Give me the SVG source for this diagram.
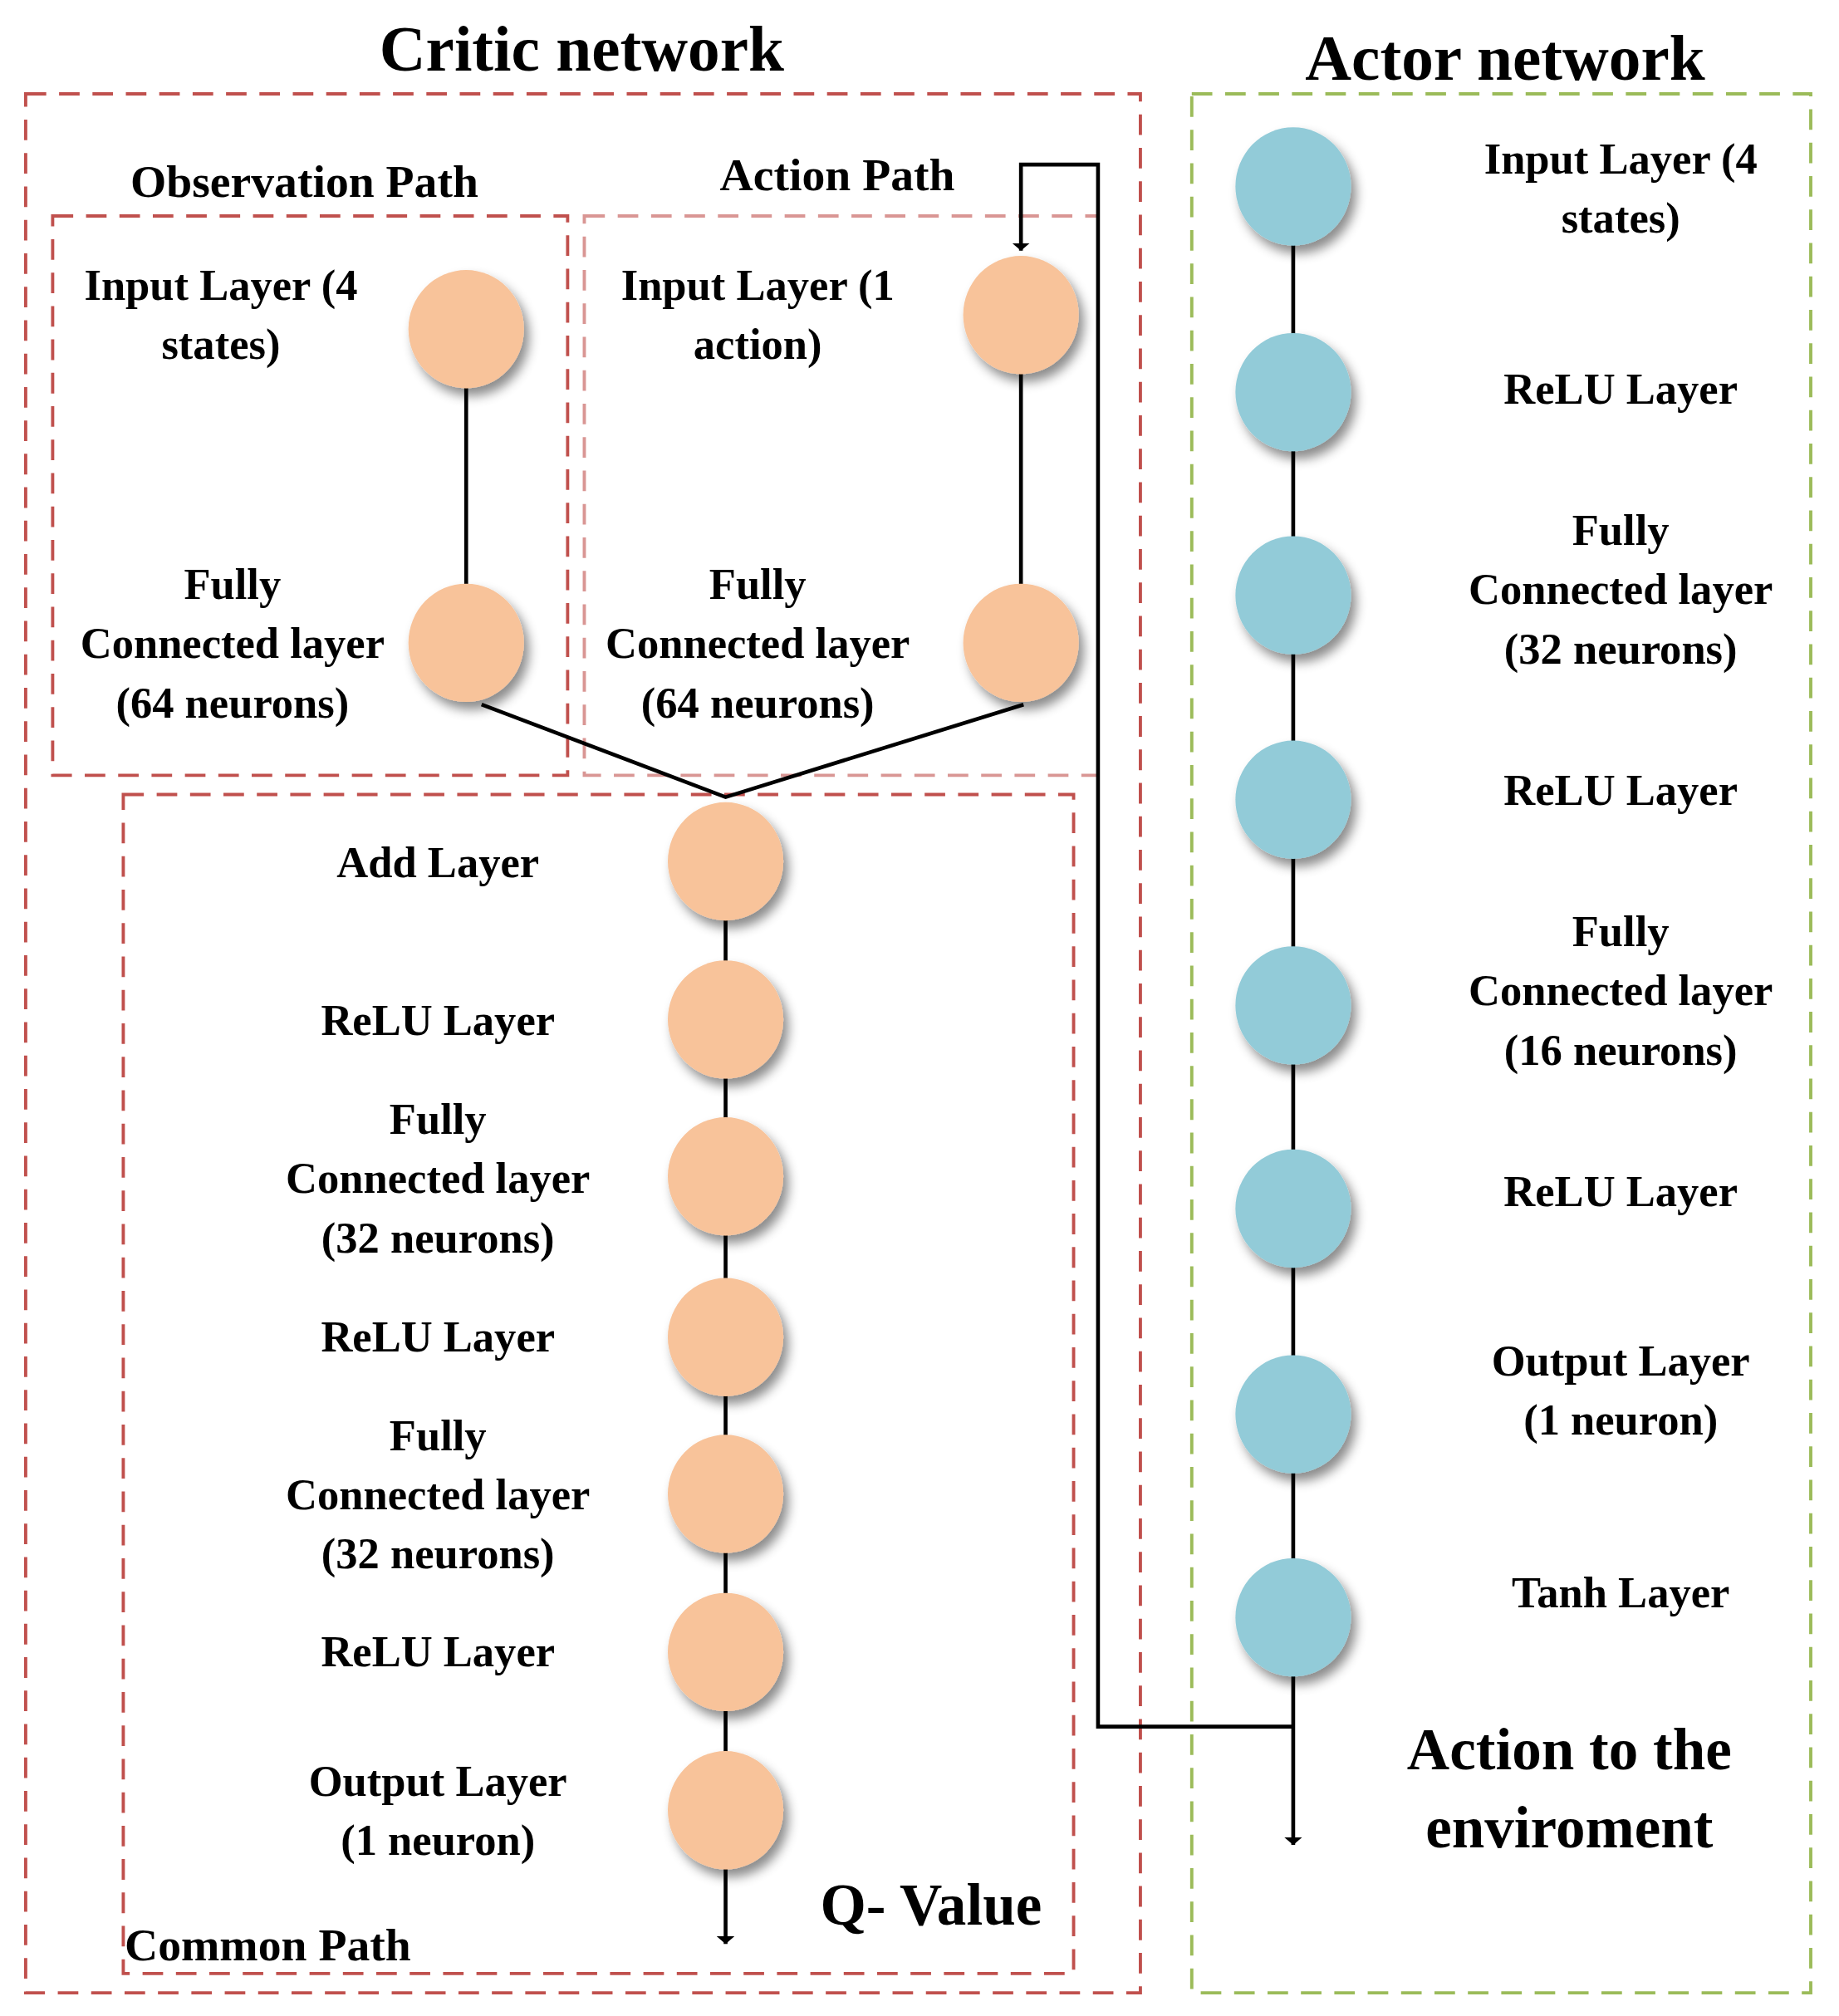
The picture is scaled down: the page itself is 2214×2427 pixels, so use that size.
<svg xmlns="http://www.w3.org/2000/svg" width="2214" height="2427" viewBox="0 0 2214 2427">
<defs>
<style>
text{font-family:"Liberation Serif","Times New Roman",serif;font-weight:bold;fill:#000;text-anchor:middle}
.lbl{font-size:34px}
.hd{font-size:36px}
.ttl{font-size:50px}
.big{font-size:46px}
.red{fill:none;stroke:#c0504d;stroke-width:2.5;stroke-dasharray:16,10}
.pink{fill:none;stroke:#d99694;stroke-width:2.5;stroke-dasharray:16,10}
.grn{fill:none;stroke:#9bbb59;stroke-width:2.5;stroke-dasharray:16,10}
.o{fill:#f8c39a;filter:url(#sh)}
.b{fill:#92cbd8;filter:url(#sh)}
.ln{fill:none;stroke:#000;stroke-width:3}
</style>
<filter id="sh" x="-30%" y="-30%" width="170%" height="170%"><feDropShadow dx="4" dy="6" stdDeviation="4" flood-color="#000" flood-opacity="0.45"/></filter>
<marker id="ar" viewBox="0 0 10 10" refX="10" refY="5" markerWidth="6" markerHeight="14" markerUnits="userSpaceOnUse" orient="auto" preserveAspectRatio="none"><path d="M0,0L10,5L0,10z" fill="#000"/></marker>
</defs>
<rect width="2214" height="2427" fill="#fff"/>
<g transform="scale(1.5461,1.5478)">
<g id="frames">
<rect class="red" x="20" y="73" width="868" height="1477"/>
<rect class="grn" x="928" y="73" width="482" height="1477"/>
<rect class="red" x="41" y="168" width="401" height="435"/>
<rect class="pink" x="455" y="168" width="400" height="435"/>
<rect class="red" x="96" y="618" width="740" height="917"/>
<text class="ttl" x="453" y="55">Critic network</text>
<text class="ttl" x="1172" y="62">Actor network</text>
<text class="hd" x="237" y="153">Observation Path</text>
<text class="hd" x="652" y="148">Action Path</text>
<text class="hd" x="97" y="1525" style="text-anchor:start">Common Path</text>
<text class="big" x="725" y="1497">Q- Value</text>
<text class="big" x="1222" y="1376">Action to the</text>
<text class="big" x="1222" y="1437">enviroment</text>
</g>
<g id="connectors">
<path class="ln" d="M363,256V500M795,245V500M375,548L565,620L797,548M565,670V1408"/>
<path class="ln" d="M1007,145V1258"/>
<path class="ln" d="M565,1450V1512" stroke-width="3" marker-end="url(#ar)"/>
<path class="ln" d="M1007,1300V1435" marker-end="url(#ar)"/>
<path class="ln" d="M1007,1343H855V128H795V195" marker-end="url(#ar)"/>
</g>
<g id="obs-in"><ellipse class="o" cx="363" cy="256" rx="45" ry="46"/><text class="lbl" x="172" y="233">Input Layer (4</text><text class="lbl" x="172" y="279">states)</text></g>
<g id="obs-fc"><ellipse class="o" cx="363" cy="500" rx="45" ry="46"/><text class="lbl" x="181" y="466">Fully</text><text class="lbl" x="181" y="512">Connected layer</text><text class="lbl" x="181" y="558">(64 neurons)</text></g>
<g id="act-in"><ellipse class="o" cx="795" cy="245" rx="45" ry="46"/><text class="lbl" x="590" y="233">Input Layer (1</text><text class="lbl" x="590" y="279">action)</text></g>
<g id="act-fc"><ellipse class="o" cx="795" cy="500" rx="45" ry="46"/><text class="lbl" x="590" y="466">Fully</text><text class="lbl" x="590" y="512">Connected layer</text><text class="lbl" x="590" y="558">(64 neurons)</text></g>
<g id="c-add"><ellipse class="o" cx="565" cy="670" rx="45" ry="46"/><text class="lbl" x="341" y="682">Add Layer</text></g>
<g id="c-relu1"><ellipse class="o" cx="565" cy="793" rx="45" ry="46"/><text class="lbl" x="341" y="805">ReLU Layer</text></g>
<g id="c-fc1"><ellipse class="o" cx="565" cy="915" rx="45" ry="46"/><text class="lbl" x="341" y="882">Fully</text><text class="lbl" x="341" y="928">Connected layer</text><text class="lbl" x="341" y="974">(32 neurons)</text></g>
<g id="c-relu2"><ellipse class="o" cx="565" cy="1040" rx="45" ry="46"/><text class="lbl" x="341" y="1051">ReLU Layer</text></g>
<g id="c-fc2"><ellipse class="o" cx="565" cy="1162" rx="45" ry="46"/><text class="lbl" x="341" y="1128">Fully</text><text class="lbl" x="341" y="1174">Connected layer</text><text class="lbl" x="341" y="1220">(32 neurons)</text></g>
<g id="c-relu3"><ellipse class="o" cx="565" cy="1285" rx="45" ry="46"/><text class="lbl" x="341" y="1296">ReLU Layer</text></g>
<g id="c-out"><ellipse class="o" cx="565" cy="1408" rx="45" ry="46"/><text class="lbl" x="341" y="1397">Output Layer</text><text class="lbl" x="341" y="1443">(1 neuron)</text></g>
<g id="a-in"><ellipse class="b" cx="1007" cy="145" rx="45" ry="46"/><text class="lbl" x="1262" y="135">Input Layer (4</text><text class="lbl" x="1262" y="181">states)</text></g>
<g id="a-relu1"><ellipse class="b" cx="1007" cy="305" rx="45" ry="46"/><text class="lbl" x="1262" y="314">ReLU Layer</text></g>
<g id="a-fc1"><ellipse class="b" cx="1007" cy="463" rx="45" ry="46"/><text class="lbl" x="1262" y="424">Fully</text><text class="lbl" x="1262" y="470">Connected layer</text><text class="lbl" x="1262" y="516">(32 neurons)</text></g>
<g id="a-relu2"><ellipse class="b" cx="1007" cy="622" rx="45" ry="46"/><text class="lbl" x="1262" y="626">ReLU Layer</text></g>
<g id="a-fc2"><ellipse class="b" cx="1007" cy="782" rx="45" ry="46"/><text class="lbl" x="1262" y="736">Fully</text><text class="lbl" x="1262" y="782">Connected layer</text><text class="lbl" x="1262" y="828">(16 neurons)</text></g>
<g id="a-relu3"><ellipse class="b" cx="1007" cy="940" rx="45" ry="46"/><text class="lbl" x="1262" y="938">ReLU Layer</text></g>
<g id="a-out"><ellipse class="b" cx="1007" cy="1100" rx="45" ry="46"/><text class="lbl" x="1262" y="1070">Output Layer</text><text class="lbl" x="1262" y="1116">(1 neuron)</text></g>
<g id="a-tanh"><ellipse class="b" cx="1007" cy="1258" rx="45" ry="46"/><text class="lbl" x="1262" y="1250">Tanh Layer</text></g>
</g>
</svg>
